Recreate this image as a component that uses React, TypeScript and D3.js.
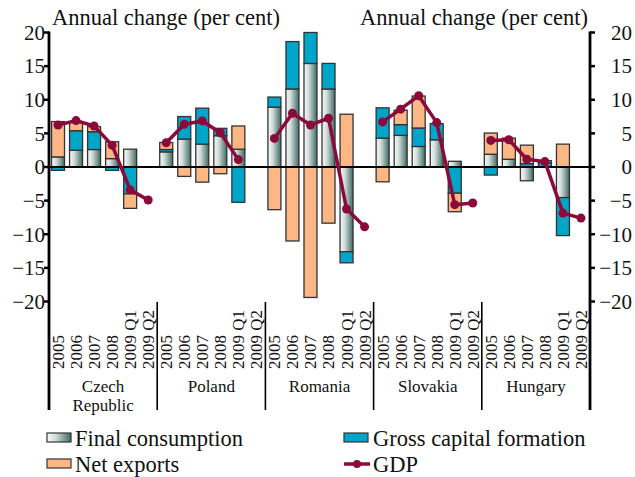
import React from 'react';
import * as d3 from 'd3';

// Data
const countries = ['Czech Republic', 'Poland', 'Romania', 'Slovakia', 'Hungary'];
const countryLines = [['Czech', 'Republic'], ['Poland'], ['Romania'], ['Slovakia'], ['Hungary']];
const periods = ['2005', '2006', '2007', '2008', '2009 Q1', '2009 Q2'];

// per country: 2005..2009 Q2
const finalConsumption = [
  [1.5, 2.5, 2.6, 1.25, 2.65, null],
  [2.25, 4.15, 3.4, 4.65, 2.65, null],
  [8.9, 11.6, 15.4, 11.6, -12.6, null],
  [4.3, 4.7, 3.05, 4.05, 0.85, null],
  [1.9, 1.15, -2.05, 0, -4.55, null],
];
const grossCapital = [
  [-0.5, 2.9, 2.65, -0.5, -4.0, null],
  [0.35, 3.35, 5.35, 1.1, -5.25, null],
  [1.5, 7.05, 4.6, 3.8, -1.65, null],
  [4.5, 1.6, 2.75, 2.4, -3.9, null],
  [-1.2, 0, 0.5, 0.65, -5.65, null],
];
const netExports = [
  [5.25, 1.35, 0.75, 2.5, -2.15, null],
  [1.05, -1.4, -2.25, -1.0, 3.45, null],
  [-6.35, -11.0, -19.4, -8.35, 7.85, null],
  [-2.2, 2.15, 4.75, 0, -2.75, null],
  [3.15, 3.15, 2.75, 0.3, 3.4, null],
];
const gdp = [
  [6.25, 6.9, 6.1, 3.25, -3.4, -4.9],
  [3.6, 6.35, 6.85, 5.1, 1.1, null],
  [4.25, 8.0, 6.25, 7.25, -6.25, -8.9],
  [6.7, 8.6, 10.6, 6.6, -5.6, -5.35],
  [3.95, 4.05, 1.15, 0.8, -6.85, -7.6],
];
const yTicks = [20, 15, 10, 5, 0, -5, -10, -15, -20];

const keys = ['fc', 'gcf', 'ne'];
const colors: Record<string, string> = { fc: 'url(#fcGrad)', gcf: '#00a6c9', ne: '#fdb784' };
const gdpColor = '#8a0b3b';
const font = '"Liberation Serif", "DejaVu Serif", serif';

const W = 635;
const H = 477;
const left = 49;
const right = 590;

const App = () => {
  const slots: string[] = [];
  const rows: any[] = [];
  countries.forEach((c, ci) => {
    periods.forEach((p, pi) => {
      const id = `${c}|${p}`;
      slots.push(id);
      rows.push({
        id,
        fc: finalConsumption[ci][pi] ?? 0,
        gcf: grossCapital[ci][pi] ?? 0,
        ne: netExports[ci][pi] ?? 0,
      });
    });
  });

  const x = d3.scaleBand<string>().domain(slots).range([left, right]).paddingInner(0.28).paddingOuter(0.14);
  const y = d3.scaleLinear().domain([-20, 20]).range([301.5, 32.5]);
  const step = x.step();
  const bw = x.bandwidth();

  const series = d3.stack<any>().keys(keys).offset(d3.stackOffsetDiverging)(rows);

  const line = d3
    .line<any>()
    .defined((d) => d.v != null)
    .x((d) => d.x)
    .y((d) => y(d.v));

  const fmt = d3.format('');
  const boundaries = countries.map((c) => (x(`${c}|${periods[0]}`) as number) - (step * 0.28) / 2);
  boundaries.push(right);

  return (
    <div style={{ position: 'absolute', left: 0, top: 0 }}>
      <svg width={W} height={H} style={{ display: 'block', background: '#fff' }} fontFamily={font}>
        <defs>
          <linearGradient id="fcGrad" x1="0" x2="1" y1="0" y2="0">
            <stop offset="0%" stopColor="#f7f9f8" />
            <stop offset="35%" stopColor="#d3ddda" />
            <stop offset="100%" stopColor="#3e6c62" />
          </linearGradient>
        </defs>

        {/* titles */}
        <text x={52} y={25} fontSize={22.5} fill="#111">Annual change (per cent)</text>
        <text x={588} y={25} fontSize={22.5} fill="#111" textAnchor="end">Annual change (per cent)</text>

        {/* bars */}
        {series.map((s) => (
          <g key={s.key}>
            {s.map((d: any, i: number) =>
              d[1] - d[0] === 0 ? null : (
                <rect
                  key={i}
                  x={x(d.data.id)}
                  y={y(Math.max(d[0], d[1]))}
                  width={bw}
                  height={Math.abs(y(d[0]) - y(d[1]))}
                  fill={colors[s.key]}
                  stroke="#333"
                  strokeWidth={1.3}
                />
              )
            )}
          </g>
        ))}

        {/* zero line */}
        <line x1={left} x2={right} y1={y(0)} y2={y(0)} stroke="#000" strokeWidth={2.2} />

        {/* GDP lines per country */}
        {countries.map((c, ci) => {
          const pts = periods.map((p, pi) => ({ x: (x(`${c}|${p}`) as number) + bw / 2, v: gdp[ci][pi] }));
          return (
            <g key={c}>
              <path d={line(pts) || ''} fill="none" stroke={gdpColor} strokeWidth={3.5} strokeLinejoin="round" />
              {pts
                .filter((d) => d.v != null)
                .map((d, i) => (
                  <circle key={i} cx={d.x} cy={y(d.v as number)} r={4.5} fill={gdpColor} />
                ))}
            </g>
          );
        })}

        {/* axes */}
        <line x1={left} x2={left} y1={y(20) - 1} y2={410} stroke="#000" strokeWidth={2.8} />
        <line x1={right} x2={right} y1={y(20) - 1} y2={410} stroke="#000" strokeWidth={2.8} />
        {yTicks.map((t) => (
          <g key={t}>
            <line x1={left - 5} x2={left} y1={y(t)} y2={y(t)} stroke="#000" strokeWidth={2.5} />
            <line x1={right} x2={right + 5} y1={y(t)} y2={y(t)} stroke="#000" strokeWidth={2.5} />
            <text x={45} y={y(t)} dy="0.35em" fontSize={21} textAnchor="end" fill="#111">
              {fmt(t)}
            </text>
            <text x={632} y={y(t)} dy="0.35em" fontSize={21} textAnchor="end" fill="#111">
              {fmt(t)}
            </text>
          </g>
        ))}

        {/* country separators */}
        {boundaries.slice(1, -1).map((b, i) => (
          <line key={i} x1={b} x2={b} y1={302} y2={410} stroke="#000" strokeWidth={1.6} />
        ))}

        {/* period labels */}
        {slots.map((s) => {
          const cx = (x(s) as number) + bw / 2;
          return (
            <text
              key={s}
              transform={`translate(${cx},369) rotate(-90)`}
              dy="0.35em"
              fontSize={17}
              fill="#111"
            >
              {s.split('|')[1]}
            </text>
          );
        })}

        {/* country labels */}
        {countryLines.map((ls, ci) => {
          const cx = (boundaries[ci] + boundaries[ci + 1]) / 2;
          return (
            <text key={ci} x={cx} y={392} fontSize={17} textAnchor="middle" fill="#111">
              {ls.map((l, li) => (
                <tspan key={li} x={cx} dy={li === 0 ? 0 : 19}>
                  {l}
                </tspan>
              ))}
            </text>
          );
        })}

        {/* legend */}
        <g fontSize={22.5} fill="#111">
          <rect x={47} y={433} width={24} height={9} fill="url(#fcGrad)" stroke="#333" strokeWidth={1.2} />
          <text x={75} y={446}>Final consumption</text>
          <rect x={47} y={459} width={24} height={9} fill={colors.ne} stroke="#333" strokeWidth={1.2} />
          <text x={75} y={472}>Net exports</text>
          <rect x={344} y={433} width={24} height={9} fill={colors.gcf} stroke="#333" strokeWidth={1.2} />
          <text x={373} y={446}>Gross capital formation</text>
          <line x1={344} x2={370} y1={464} y2={464} stroke={gdpColor} strokeWidth={3.5} />
          <circle cx={357} cy={464} r={4} fill={gdpColor} />
          <text x={373} y={472}>GDP</text>
        </g>
      </svg>
    </div>
  );
};

export default App;
